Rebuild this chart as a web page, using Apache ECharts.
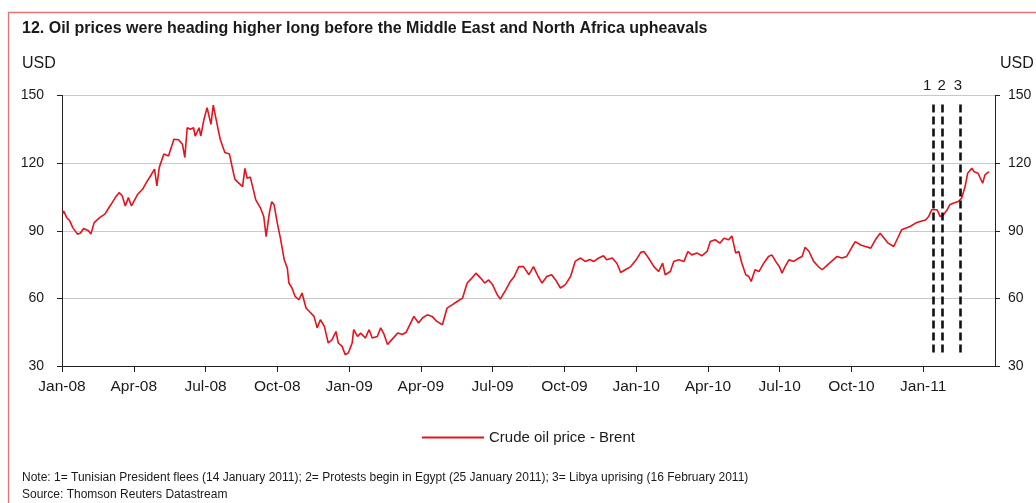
<!DOCTYPE html>
<html>
<head>
<meta charset="utf-8">
<script src="https://cdn.jsdelivr.net/npm/echarts@6/dist/echarts.min.js"></script>
<style>
  html, body { margin: 0; padding: 0; background: #fff; }
  #chart { width: 1036px; height: 503px; }
</style>
</head>
<body>
<div id="chart"></div>
<script>
// Brent crude, USD per barrel
const dates = [
  '2008-01-02','2008-01-03','2008-01-07','2008-01-11','2008-01-15','2008-01-21','2008-01-25','2008-01-29',
  '2008-02-04','2008-02-07','2008-02-11','2008-02-18','2008-02-24','2008-02-29',
  '2008-03-04','2008-03-08','2008-03-13','2008-03-17','2008-03-21','2008-03-25','2008-03-29',
  '2008-04-06','2008-04-12','2008-04-18','2008-04-22','2008-04-27','2008-04-30',
  '2008-05-03','2008-05-09','2008-05-15','2008-05-22','2008-05-28',
  '2008-06-02','2008-06-05','2008-06-08','2008-06-12','2008-06-16','2008-06-18','2008-06-23','2008-06-25','2008-06-29',
  '2008-07-03','2008-07-08','2008-07-11','2008-07-16','2008-07-20','2008-07-26',
  '2008-08-01','2008-08-05','2008-08-08','2008-08-11','2008-08-18','2008-08-21','2008-08-24','2008-08-28',
  '2008-09-04','2008-09-10','2008-09-14','2008-09-17','2008-09-21','2008-09-24','2008-09-27',
  '2008-10-01','2008-10-05','2008-10-10','2008-10-14','2008-10-16','2008-10-20','2008-10-24','2008-10-29',
  '2008-11-02','2008-11-07','2008-11-13','2008-11-17','2008-11-21','2008-11-25','2008-11-30',
  '2008-12-05','2008-12-10','2008-12-15','2008-12-18','2008-12-23','2008-12-27','2008-12-31',
  '2009-01-05','2009-01-07','2009-01-12','2009-01-16','2009-01-22','2009-01-27','2009-01-31',
  '2009-02-06','2009-02-10','2009-02-14','2009-02-18','2009-02-23',
  '2009-03-02','2009-03-08','2009-03-13','2009-03-23','2009-03-29',
  '2009-04-03','2009-04-09','2009-04-15','2009-04-21','2009-04-28',
  '2009-05-04','2009-05-11','2009-05-17','2009-05-24','2009-05-30',
  '2009-06-05','2009-06-10','2009-06-16','2009-06-21','2009-06-26',
  '2009-07-01','2009-07-07','2009-07-11','2009-07-18','2009-07-24','2009-07-29',
  '2009-08-04','2009-08-10','2009-08-17','2009-08-23','2009-08-29',
  '2009-09-03','2009-09-09','2009-09-15','2009-09-20','2009-09-26',
  '2009-10-02','2009-10-09','2009-10-15','2009-10-22','2009-10-28',
  '2009-11-03','2009-11-08','2009-11-14','2009-11-20','2009-11-24',
  '2009-12-01','2009-12-07','2009-12-12','2009-12-18','2009-12-25',
  '2010-01-01','2010-01-07','2010-01-11','2010-01-17','2010-01-24','2010-01-30',
  '2010-02-04','2010-02-07','2010-02-13','2010-02-17','2010-02-23',
  '2010-03-01','2010-03-06','2010-03-11','2010-03-18','2010-03-24','2010-03-31',
  '2010-04-04','2010-04-10','2010-04-16','2010-04-21','2010-04-27',
  '2010-05-01','2010-05-06','2010-05-10','2010-05-14','2010-05-19','2010-05-23','2010-05-26','2010-05-31',
  '2010-06-05','2010-06-11','2010-06-17','2010-06-21','2010-06-26',
  '2010-07-01','2010-07-04','2010-07-08','2010-07-13','2010-07-19','2010-07-26','2010-07-30',
  '2010-08-03','2010-08-08','2010-08-14','2010-08-20','2010-08-25',
  '2010-09-01','2010-09-06','2010-09-13','2010-09-19','2010-09-25',
  '2010-10-02','2010-10-06','2010-10-13','2010-10-19','2010-10-26',
  '2010-11-01','2010-11-07','2010-11-12','2010-11-17','2010-11-24','2010-11-28',
  '2010-12-04','2010-12-09','2010-12-15','2010-12-22','2010-12-28',
  '2011-01-04','2011-01-08','2011-01-12','2011-01-19','2011-01-23','2011-01-27',
  '2011-02-01','2011-02-04','2011-02-08','2011-02-14','2011-02-18','2011-02-22','2011-02-25',
  '2011-03-02','2011-03-05','2011-03-10','2011-03-13','2011-03-16','2011-03-19','2011-03-24'
];

const brent = [
  97.5, 98.8, 95.9, 94.4, 91.4, 88.5, 89.0, 91.0,
  90.0, 88.5, 93.6, 95.9, 97.4, 100.3,
  102.5, 104.7, 106.9, 105.5, 101.0, 104.7, 101.0,
  106.2, 108.4, 112.1, 114.3, 117.3, 109.9,
  118.0, 124.0, 123.2, 130.6, 130.4,
  128.4, 122.5, 135.7, 135.0, 135.7, 132.0, 135.7, 132.0, 139.4,
  144.6, 137.2, 145.7, 137.2, 130.6, 124.7,
  124.0, 117.5, 112.9, 111.8, 109.6, 117.7, 113.3, 113.8,
  103.7, 100.0, 96.3, 87.4, 97.8, 102.9, 101.5,
  93.4, 86.7, 77.1, 73.4, 66.8, 64.6, 60.9, 59.4,
  62.4, 55.7, 53.5, 52.0, 46.9, 50.5, 47.6,
  40.2, 41.7, 45.3, 40.2, 38.7, 35.0, 35.8,
  40.2, 46.1, 43.1, 44.6, 42.4, 46.1, 42.4,
  43.1, 46.9, 44.0, 39.5, 41.7,
  44.6, 44.0, 45.0, 52.0, 49.1,
  51.3, 52.7, 52.0, 49.8, 48.3,
  55.7, 57.2, 58.6, 60.1, 66.8,
  69.0, 71.2, 69.0, 66.8, 68.2,
  66.0, 61.6, 59.7, 63.8, 67.5, 69.7,
  74.1, 74.1, 70.5, 74.1, 69.7,
  66.8, 69.7, 70.5, 68.2, 64.6,
  66.0, 69.7, 76.4, 77.9, 76.4,
  77.2, 76.4, 77.9, 78.9, 77.1,
  77.9, 75.6, 71.5, 72.7, 74.1,
  77.1, 80.4, 80.8, 77.9, 74.1, 71.9,
  75.6, 70.5, 71.9, 76.4, 77.1,
  76.4, 80.8, 79.3, 80.1, 78.9, 80.8,
  85.2, 86.0, 84.5, 86.7, 86.0,
  87.7, 80.1, 80.8, 75.6, 70.5, 69.7, 67.5, 72.7,
  71.9, 75.6, 78.6, 79.3, 76.4,
  73.8, 71.2, 74.1, 77.1, 76.4, 77.9, 78.6,
  82.7, 80.8, 76.4, 74.1, 72.7,
  74.9, 76.4, 78.6, 77.9, 78.6,
  83.0, 85.2, 83.7, 83.0, 82.3,
  86.0, 88.9, 86.7, 84.5, 83.0, 86.0,
  90.4, 91.1, 91.9, 93.4, 94.1,
  94.8, 96.3, 99.3, 99.3, 96.3, 97.0,
  99.3, 101.5, 102.2, 103.0, 104.5, 109.6, 115.5,
  117.7, 116.2, 115.5, 113.3, 111.1, 114.8, 116.2
];

// Events marked with dashed verticals
const eventLabels = ['1', '2', '3'];
const eventDates = ['2011-01-14', '2011-01-25', '2011-02-16'];

// Quarterly tick labels along the date axis (one every 3 months from Jan 2008)
const tickLabels = ['Jan-08','Apr-08','Jul-08','Oct-08','Jan-09','Apr-09','Jul-09',
                    'Oct-09','Jan-10','Apr-10','Jul-10','Oct-10','Jan-11'];

const yTicks = [30, 60, 90, 120, 150];

// Convert a date string to fractional months since Jan 2008
function monthsFrom2008(s) {
  const [y, m, d] = s.split('-').map(Number);
  const dim = new Date(Date.UTC(y, m, 0)).getUTCDate();
  return (y - 2008) * 12 + (m - 1) + (d - 1) / dim;
}

const seriesData = dates.map((d, i) => [monthsFrom2008(d), brent[i]]);

const SANS = "'Liberation Sans', Arial, sans-serif";
const RED = '#e3141c';
const TXT = '#1a1a1a';

const chart = echarts.init(document.getElementById('chart'), null, { renderer: 'canvas' });

const eventLines = eventDates.map((d, i) => [
  { coord: [monthsFrom2008(d), 36], name: eventLabels[i] },
  { coord: [monthsFrom2008(d), 147] }
]);
const labelOffsets = [[-6, 0], [0, 0], [-2, 0]];
eventLines.forEach((pair, i) => {
  pair[0].label = { offset: labelOffsets[i] };
});

const yAxisCommon = {
  type: 'value',
  min: yTicks[0],
  max: yTicks[yTicks.length - 1],
  interval: 30,
  axisLine: { show: true, lineStyle: { color: '#222', width: 1 } },
  axisTick: { show: true, length: 5, lineStyle: { color: '#222' } },
  axisLabel: { color: TXT, fontFamily: SANS, fontSize: 14 }
};

chart.setOption({
  animation: false,
  backgroundColor: '#fff',
  grid: { left: 62, right: 41, top: 95.5, bottom: 137, containLabel: false },
  graphic: [
    {
      type: 'rect', left: 6, top: 10,
      shape: { width: 1040, height: 500 },
      style: { fill: 'none', stroke: '#e27474', lineWidth: 1.3 },
      silent: true
    },
    {
      type: 'text', left: 22, top: 21,
      style: { text: '12. Oil prices were heading higher long before the Middle East and North Africa upheavals',
               fill: TXT, font: 'bold 16px ' + SANS }
    },
    { type: 'text', left: 22, top: 56, style: { text: 'USD', fill: TXT, font: '16px ' + SANS } },
    { type: 'text', left: 1000, top: 56, style: { text: 'USD', fill: TXT, font: '16px ' + SANS } },
    {
      type: 'text', left: 22, top: 472,
      style: { text: 'Note: 1= Tunisian President flees (14 January 2011); 2= Protests begin in Egypt (25 January 2011); 3= Libya uprising (16 February 2011)',
               fill: TXT, font: '12px ' + SANS }
    },
    { type: 'text', left: 22, top: 489, style: { text: 'Source: Thomson Reuters Datastream', fill: TXT, font: '12px ' + SANS } }
  ],
  legend: {
    left: 417, top: 425,
    itemWidth: 62, itemHeight: 2, itemGap: 10,
    icon: 'rect',
    textStyle: { color: TXT, fontFamily: SANS, fontSize: 15 },
    data: ['Crude oil price - Brent']
  },
  xAxis: {
    type: 'value',
    min: 0,
    max: 39,
    interval: 3,
    axisLine: { show: true, onZero: false, lineStyle: { color: '#222', width: 1 } },
    axisTick: { show: true, length: 6, lineStyle: { color: '#222' } },
    splitLine: { show: false },
    axisLabel: {
      color: TXT, fontFamily: SANS, fontSize: 15.5, margin: 13,
      showMaxLabel: false,
      formatter: v => tickLabels[Math.round(v / 3)] || ''
    }
  },
  yAxis: [
    Object.assign({}, yAxisCommon, {
      position: 'left',
      splitLine: { show: true, lineStyle: { color: '#c9c9c9', width: 1.2 } },
      axisLabel: Object.assign({}, yAxisCommon.axisLabel, { margin: 18 })
    }),
    Object.assign({}, yAxisCommon, {
      position: 'right',
      splitLine: { show: false },
      axisLabel: Object.assign({}, yAxisCommon.axisLabel, { margin: 13 })
    })
  ],
  series: [
    {
      name: 'Crude oil price - Brent',
      type: 'line',
      data: seriesData,
      showSymbol: false,
      symbol: 'none',
      color: RED,
      lineStyle: { color: RED, width: 1.6 },
      z: 3,
      markLine: {
        silent: true,
        symbol: 'none',
        animation: false,
        lineStyle: { color: '#111', width: 2.6, type: [8, 4] },
        label: {
          show: true, position: 'end', distance: 9,
          formatter: p => p.name,
          color: TXT, fontFamily: SANS, fontSize: 15
        },
        emphasis: { disabled: true },
        data: eventLines
      }
    }
  ]
});
</script>
</body>
</html>
